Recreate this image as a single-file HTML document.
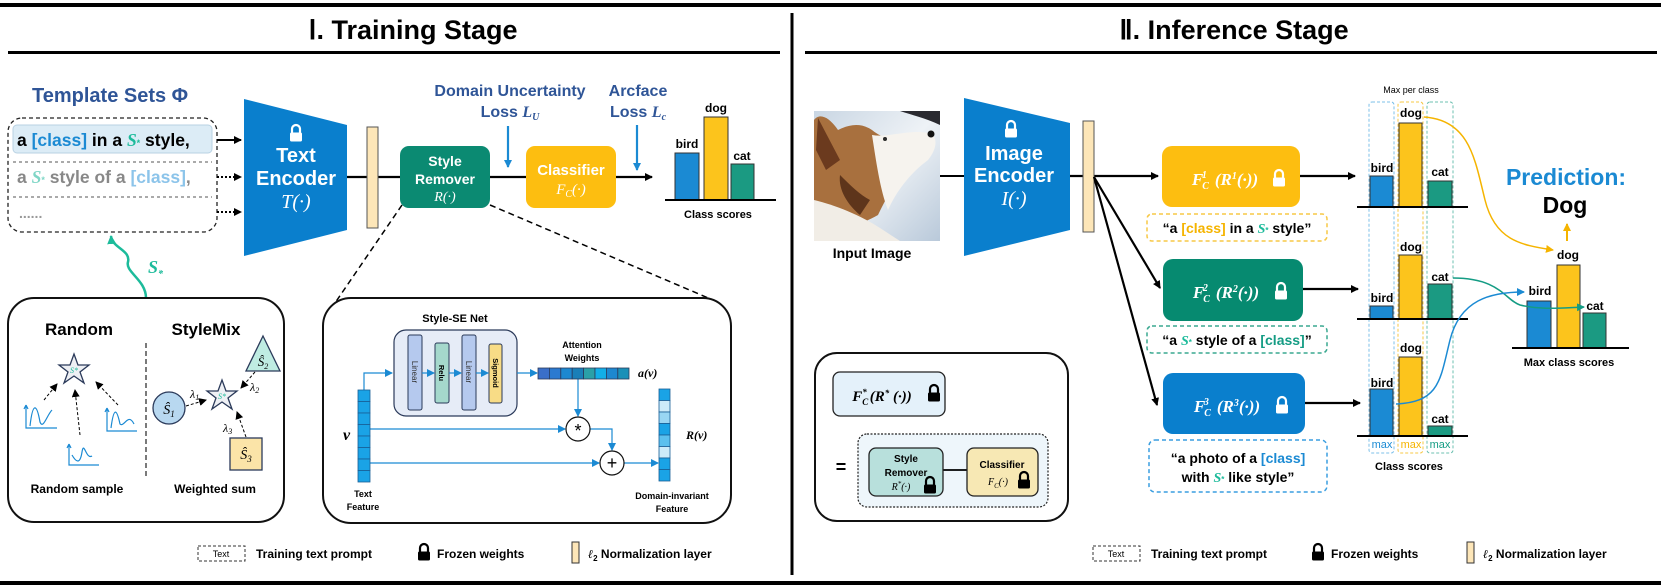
<!DOCTYPE html>
<html><head><meta charset="utf-8"><style>
html,body{margin:0;padding:0;background:#fff;}
svg{display:block;font-family:"Liberation Sans",sans-serif;}
.b{font-weight:bold;}
.m{font-family:"Liberation Serif",serif;font-style:italic;}
</style></head><body>
<svg width="1661" height="587" viewBox="0 0 1661 587" xmlns="http://www.w3.org/2000/svg">
<defs>
<marker id="ak" markerWidth="8" markerHeight="8" refX="7" refY="4" orient="auto" markerUnits="userSpaceOnUse"><path d="M0,0 L8,4 L0,8 z" fill="#000"/></marker>
<marker id="ab" markerWidth="8" markerHeight="8" refX="7" refY="4" orient="auto" markerUnits="userSpaceOnUse"><path d="M0,0 L8,4 L0,8 z" fill="#1b8ad3"/></marker>
<marker id="at" markerWidth="9" markerHeight="9" refX="8" refY="4.5" orient="auto" markerUnits="userSpaceOnUse"><path d="M0,0 L9,4.5 L0,9 z" fill="#1dbb9b"/></marker>
<marker id="ay" markerWidth="8" markerHeight="8" refX="7" refY="4" orient="auto" markerUnits="userSpaceOnUse"><path d="M0,0 L8,4 L0,8 z" fill="#f5b400"/></marker>
<marker id="ag" markerWidth="8" markerHeight="8" refX="7" refY="4" orient="auto" markerUnits="userSpaceOnUse"><path d="M0,0 L8,4 L0,8 z" fill="#149c84"/></marker>
<g id="lock"><path d="M-4,0 v-4 a4,4 0 0 1 8,0 v4" fill="none" stroke="currentColor" stroke-width="2.2"/><rect x="-6" y="-0.5" width="12" height="9" rx="1.5" fill="currentColor"/></g>
<linearGradient id="dogbg" x1="0" y1="0" x2="1" y2="1"><stop offset="0" stop-color="#c9d6e3"/><stop offset="0.5" stop-color="#eef2f6"/><stop offset="1" stop-color="#b9c9da"/></linearGradient>
</defs>

<rect x="0" y="3" width="1661" height="4" fill="#000"/>
<rect x="0" y="581" width="1661" height="4" fill="#000"/>
<rect x="790.5" y="13" width="3" height="562" fill="#000"/>
<rect x="8" y="51" width="772" height="3" fill="#000"/>
<rect x="805" y="51" width="852" height="3" fill="#000"/>
<text x="413" y="39" text-anchor="middle" class="b" font-size="27">Ⅰ. Training Stage</text>
<text x="1234" y="39" text-anchor="middle" class="b" font-size="27">Ⅱ. Inference Stage</text>

<text x="32" y="102" class="b" font-size="20" fill="#2f5597">Template Sets Φ</text>
<rect x="8" y="118" width="209" height="114" rx="14" fill="none" stroke="#222" stroke-width="1.3" stroke-dasharray="4,3"/>
<rect x="13" y="125" width="199" height="28" rx="4" fill="#dcecf6" stroke="#b9d2e3"/>
<text x="17" y="146" class="b" font-size="17.5">a <tspan fill="#1b8ad3">[class]</tspan> in a <tspan class="m" fill="#1dbb9b">S</tspan><tspan font-size="9" fill="#1dbb9b">*</tspan> style,</text>
<line x1="13" y1="162" x2="212" y2="162" stroke="#555" stroke-dasharray="3,3"/>
<text x="17" y="183" class="b" font-size="17.5" fill="#888">a <tspan class="m" fill="#7fd6c6">S</tspan><tspan font-size="9" fill="#7fd6c6">*</tspan> style of a <tspan fill="#8cc4ea">[class]</tspan>,</text>
<line x1="13" y1="197" x2="212" y2="197" stroke="#555" stroke-dasharray="3,3"/>
<text x="19" y="218" class="b" font-size="14" fill="#999">......</text>
<line x1="217" y1="140" x2="241" y2="140" stroke="#000" stroke-width="2" marker-end="url(#ak)"/>
<line x1="217" y1="177" x2="241" y2="177" stroke="#000" stroke-width="2" stroke-dasharray="2,2" marker-end="url(#ak)"/>
<line x1="217" y1="212" x2="241" y2="212" stroke="#000" stroke-width="2" stroke-dasharray="2,2" marker-end="url(#ak)"/>

<polygon points="244,99 347,125 347,230 244,256" fill="#0a7fcd"/>
<use href="#lock" x="296" y="133" color="#fff"/>
<text x="296" y="162" text-anchor="middle" class="b" font-size="20" fill="#fff">Text</text>
<text x="296" y="185" text-anchor="middle" class="b" font-size="20" fill="#fff">Encoder</text>
<text x="296" y="208" text-anchor="middle" class="m" font-size="20" fill="#fff">T(·)</text>

<line x1="347" y1="177" x2="652" y2="177" stroke="#000" stroke-width="2.2" marker-end="url(#ak)"/>
<rect x="367" y="127" width="11" height="101" fill="#fde6b8" stroke="#555"/>
<rect x="400" y="146" width="90" height="62" rx="9" fill="#0b8a72"/>
<text x="445" y="166" text-anchor="middle" class="b" font-size="14" fill="#fff">Style</text>
<text x="445" y="184" text-anchor="middle" class="b" font-size="14" fill="#fff">Remover</text>
<text x="445" y="201" text-anchor="middle" class="m" font-size="14" fill="#fff">R(·)</text>
<rect x="526" y="146" width="90" height="62" rx="9" fill="#fdbe10"/>
<text x="571" y="175" text-anchor="middle" class="b" font-size="15" fill="#fff">Classifier</text>
<text x="571" y="194" text-anchor="middle" class="m" font-size="15" fill="#fff">F<tspan font-size="10" dy="3">C</tspan><tspan dy="-3">(·)</tspan></text>
<line x1="508" y1="126" x2="508" y2="167" stroke="#1b8ad3" stroke-width="2.2" marker-end="url(#ab)"/>
<line x1="637" y1="125" x2="637" y2="170" stroke="#1b8ad3" stroke-width="2.2" marker-end="url(#ab)"/>
<text x="510" y="96" text-anchor="middle" class="b" font-size="16" fill="#2f5597">Domain Uncertainty</text>
<text x="510" y="117" text-anchor="middle" class="b" font-size="16" fill="#2f5597">Loss <tspan class="m">L<tspan font-size="10" dy="3">U</tspan></tspan></text>
<text x="638" y="96" text-anchor="middle" class="b" font-size="16" fill="#2f5597">Arcface</text>
<text x="638" y="117" text-anchor="middle" class="b" font-size="16" fill="#2f5597">Loss <tspan class="m">L<tspan font-size="10" dy="3">c</tspan></tspan></text>

<rect x="675" y="153" width="24" height="47" fill="#1b8ad3" stroke="#333"/>
<rect x="704" y="117" width="24" height="83" fill="#fcc41c" stroke="#333"/>
<rect x="731" y="164" width="23" height="36" fill="#1b9a82" stroke="#333"/>
<line x1="665" y1="200" x2="776" y2="200" stroke="#000" stroke-width="2"/>
<text x="687" y="148" text-anchor="middle" class="b" font-size="12">bird</text>
<text x="716" y="112" text-anchor="middle" class="b" font-size="12">dog</text>
<text x="742" y="160" text-anchor="middle" class="b" font-size="12">cat</text>
<text x="718" y="218" text-anchor="middle" class="b" font-size="11">Class scores</text>

<path d="M146,298 C146,280 125,272 128,262 C131,250 112,248 111,236" fill="none" stroke="#1dbb9b" stroke-width="2.5" marker-end="url(#at)"/>
<text x="148" y="273" class="m b" font-size="18" fill="#1dbb9b">S<tspan font-size="10" dy="4">*</tspan></text>

<line x1="402" y1="205" x2="335" y2="303" stroke="#000" stroke-width="1.5" stroke-dasharray="6,4"/>
<line x1="490" y1="205" x2="720" y2="303" stroke="#000" stroke-width="1.5" stroke-dasharray="6,4"/>

<rect x="8" y="298" width="276" height="224" rx="26" fill="#fff" stroke="#111" stroke-width="2"/>
<text x="79" y="335" text-anchor="middle" class="b" font-size="17">Random</text>
<text x="206" y="335" text-anchor="middle" class="b" font-size="17">StyleMix</text>
<line x1="146" y1="343" x2="146" y2="478" stroke="#222" stroke-width="1.2" stroke-dasharray="5,3"/>
<polygon points="74,354 78,365 89,365 80,372 84,383 74,376 64,383 68,372 59,365 70,365" fill="#eef0f4" stroke="#2b3a5a" stroke-width="1.3"/>
<text x="74" y="373" text-anchor="middle" class="m" font-size="8" fill="#1dbb9b">S*</text>
<line x1="44" y1="400" x2="57" y2="384" stroke="#000" stroke-dasharray="3,2" marker-end="url(#ak)"/>
<line x1="80" y1="435" x2="75" y2="390" stroke="#000" stroke-dasharray="3,2" marker-end="url(#ak)"/>
<line x1="118" y1="405" x2="96" y2="382" stroke="#000" stroke-dasharray="3,2" marker-end="url(#ak)"/>
<g stroke="#1b8ad3" fill="none" stroke-width="1.2">
<path d="M26,405 V428 H57 M26,405 l-2,4 M26,405 l2,4"/><path d="M30,426 C33,400 37,405 40,422 C43,430 47,415 52,410"/>
<path d="M107,408 V431 H137 M107,408 l-2,4 M107,408 l2,4"/><path d="M111,428 C114,405 117,410 120,424 C124,428 128,412 134,424"/>
<path d="M69,444 V465 H99 M69,444 l-2,4 M69,444 l2,4"/><path d="M72,455 C76,462 80,465 82,452 C84,440 86,460 92,456"/>
</g>
<text x="77" y="493" text-anchor="middle" class="b" font-size="12">Random sample</text>
<text x="215" y="493" text-anchor="middle" class="b" font-size="12">Weighted sum</text>
<circle cx="169" cy="408" r="16" fill="#b8d8f0" stroke="#2b3a5a" stroke-width="1.3"/>
<text x="169" y="414" text-anchor="middle" class="m" font-size="14">Ŝ<tspan font-size="9" dy="3">1</tspan></text>
<polygon points="263,336 280,371 246,371" fill="#bfece2" stroke="#2b3a5a" stroke-width="1.3"/>
<text x="263" y="366" text-anchor="middle" class="m" font-size="13">Ŝ<tspan font-size="8" dy="3">2</tspan></text>
<rect x="230" y="438" width="32" height="32" fill="#fbe4a8" stroke="#2b3a5a" stroke-width="1.3"/>
<text x="246" y="459" text-anchor="middle" class="m" font-size="14">Ŝ<tspan font-size="9" dy="3">3</tspan></text>
<polygon points="222,380 226,391 237,391 228,398 232,409 222,402 212,409 216,398 207,391 218,391" fill="#eef0f4" stroke="#2b3a5a" stroke-width="1.3"/>
<text x="222" y="399" text-anchor="middle" class="m" font-size="8" fill="#1dbb9b">S*</text>
<line x1="186" y1="406" x2="206" y2="400" stroke="#000" stroke-dasharray="3,2" marker-end="url(#ak)"/>
<line x1="255" y1="372" x2="241" y2="388" stroke="#000" stroke-dasharray="3,2" marker-end="url(#ak)"/>
<line x1="246" y1="437" x2="237" y2="412" stroke="#000" stroke-dasharray="3,2" marker-end="url(#ak)"/>
<text x="190" y="398" class="m" font-size="12">λ<tspan font-size="8" dy="2">1</tspan></text>
<text x="250" y="391" class="m" font-size="12">λ<tspan font-size="8" dy="2">2</tspan></text>
<text x="223" y="432" class="m" font-size="12">λ<tspan font-size="8" dy="2">3</tspan></text>

<rect x="323" y="298" width="408" height="225" rx="28" fill="#fff" stroke="#111" stroke-width="2"/>
<text x="455" y="322" text-anchor="middle" class="b" font-size="11">Style-SE Net</text>
<rect x="394" y="330" width="123" height="86" rx="12" fill="#e6ecf7" stroke="#2b3a5a" stroke-width="1.2"/>
<rect x="408" y="335" width="14" height="75" rx="2" fill="#b5c9ee" stroke="#2b3a5a"/>
<rect x="435" y="343" width="14" height="60" rx="2" fill="#a5d8cc" stroke="#2b3a5a"/>
<rect x="462" y="335" width="14" height="75" rx="2" fill="#b5c9ee" stroke="#2b3a5a"/>
<rect x="489" y="344" width="13" height="59" rx="2" fill="#f8dc86" stroke="#2b3a5a"/>
<text transform="translate(412,372) rotate(90)" text-anchor="middle" font-size="8" fill="#333">Linear</text>
<text transform="translate(439,373) rotate(90)" text-anchor="middle" class="b" font-size="7.5">Relu</text>
<text transform="translate(466,372) rotate(90)" text-anchor="middle" font-size="8" fill="#333">Linear</text>
<text transform="translate(493,373) rotate(90)" text-anchor="middle" class="b" font-size="7.5">Sigmoid</text>
<g stroke="#1b8ad3" stroke-width="1.2" fill="none">
<line x1="422" y1="373" x2="434" y2="373" marker-end="url(#ab)"/>
<line x1="449" y1="373" x2="461" y2="373" marker-end="url(#ab)"/>
<line x1="476" y1="373" x2="488" y2="373" marker-end="url(#ab)"/>
<line x1="517" y1="373" x2="537" y2="373" marker-end="url(#ab)"/>
<polyline points="364,390 364,373 392,373" marker-end="url(#ab)"/>
<line x1="578" y1="379" x2="578" y2="416" marker-end="url(#ab)"/>
<line x1="370" y1="429" x2="565" y2="429" marker-end="url(#ab)"/>
<polyline points="590,429 612,429 612,450" marker-end="url(#ab)"/>
<line x1="370" y1="463" x2="599" y2="463" marker-end="url(#ab)"/>
<line x1="624" y1="463" x2="658" y2="463" marker-end="url(#ab)"/>
</g>
<g stroke="#2b3a5a" stroke-width="0.8">
<rect x="538" y="368" width="11.4" height="11" fill="#3a6fc9"/><rect x="549.4" y="368" width="11.4" height="11" fill="#2b7ad0"/>
<rect x="560.8" y="368" width="11.4" height="11" fill="#1d88d0"/><rect x="572.2" y="368" width="11.4" height="11" fill="#1a7fb8"/>
<rect x="583.6" y="368" width="11.4" height="11" fill="#2aa0a8"/><rect x="595" y="368" width="11.4" height="11" fill="#12aee8"/>
<rect x="606.4" y="368" width="11.4" height="11" fill="#1d88d0"/><rect x="617.8" y="368" width="11.2" height="11" fill="#1a90b8"/>
</g>
<text x="582" y="348" text-anchor="middle" class="b" font-size="9">Attention</text>
<text x="582" y="361" text-anchor="middle" class="b" font-size="9">Weights</text>
<text x="638" y="377" class="m b" font-size="12">a(v)</text>
<g stroke="#1a5f96" stroke-width="0.8">
<rect x="358" y="390" width="12" height="11.5" fill="#1aa3e6"/><rect x="358" y="401.5" width="12" height="11.5" fill="#1aa3e6"/>
<rect x="358" y="413" width="12" height="11.5" fill="#1aa3e6"/><rect x="358" y="424.5" width="12" height="11.5" fill="#1aa3e6"/>
<rect x="358" y="436" width="12" height="11.5" fill="#1aa3e6"/><rect x="358" y="447.5" width="12" height="11.5" fill="#1aa3e6"/>
<rect x="358" y="459" width="12" height="11.5" fill="#1aa3e6"/><rect x="358" y="470.5" width="12" height="11.5" fill="#1aa3e6"/>
<rect x="659" y="389" width="11" height="11.5" fill="#1aa3e6"/><rect x="659" y="400.5" width="11" height="11.5" fill="#cdebf9"/>
<rect x="659" y="412" width="11" height="11.5" fill="#99d6f3"/><rect x="659" y="423.5" width="11" height="11.5" fill="#1aa3e6"/>
<rect x="659" y="435" width="11" height="11.5" fill="#5cc0ee"/><rect x="659" y="446.5" width="11" height="11.5" fill="#cdebf9"/>
<rect x="659" y="458" width="11" height="11.5" fill="#1aa3e6"/><rect x="659" y="469.5" width="11" height="11.5" fill="#1aa3e6"/>
</g>
<text x="343" y="440" class="m b" font-size="16">v</text>
<text x="686" y="439" class="m b" font-size="12">R(v)</text>
<circle cx="578" cy="429" r="12" fill="#fff" stroke="#111" stroke-width="1.2"/>
<text x="578" y="437" text-anchor="middle" font-size="18">*</text>
<circle cx="612" cy="463" r="12" fill="#fff" stroke="#111" stroke-width="1.2"/>
<text x="612" y="469" text-anchor="middle" font-size="18">+</text>
<text x="363" y="497" text-anchor="middle" class="b" font-size="9">Text</text>
<text x="363" y="510" text-anchor="middle" class="b" font-size="9">Feature</text>
<text x="672" y="499" text-anchor="middle" class="b" font-size="9">Domain-invariant</text>
<text x="672" y="512" text-anchor="middle" class="b" font-size="9">Feature</text>

<rect x="198" y="546" width="47" height="15" fill="none" stroke="#333" stroke-dasharray="3,2"/>
<text x="221" y="557" text-anchor="middle" font-size="9">Text</text>
<text x="256" y="558" class="b" font-size="12">Training text prompt</text>
<use href="#lock" x="424" y="552" color="#000"/>
<text x="437" y="558" class="b" font-size="12">Frozen weights</text>
<rect x="572" y="542" width="7" height="21" fill="#fde6b8" stroke="#333"/>
<text x="588" y="558" class="b" font-size="12"><tspan class="m">ℓ</tspan><tspan font-size="8" dy="3">2</tspan><tspan dy="-3"> Normalization layer</tspan></text>

<!-- dog image -->
<rect x="814" y="111" width="126" height="130" fill="url(#dogbg)"/>
<path d="M900,111 L940,111 L940,125 C925,118 912,115 900,111 Z" fill="#2a2a30"/>
<path d="M814,120 C820,112 830,118 838,130 C848,125 860,122 872,130 C884,140 900,142 916,138 L922,150 C905,165 890,190 878,215 C860,225 840,232 814,236 Z" fill="#a8703e"/>
<path d="M818,118 L840,160 L826,170 L816,150 Z" fill="#6b3a1e"/>
<path d="M872,135 C890,138 912,128 932,134 C938,140 936,150 928,160 C912,172 898,188 888,210 C880,190 876,160 872,135 Z" fill="#f6f3ee"/>
<path d="M814,200 C835,205 860,215 880,228 L900,241 L814,241 Z" fill="#f1ede6"/>
<path d="M840,175 C850,185 860,195 870,200 L860,215 C848,205 838,190 840,175 Z" fill="#5e351b"/>
<circle cx="931" cy="134" r="3.5" fill="#111"/>
<circle cx="885" cy="139" r="2" fill="#2a2a2a"/>
<text x="872" y="258" text-anchor="middle" class="b" font-size="14">Input Image</text>
<line x1="940" y1="176" x2="964" y2="176" stroke="#000" stroke-width="2"/>
<polygon points="964,98 1070,123 1070,230 964,256" fill="#0a7fcd"/>
<use href="#lock" x="1011" y="129" color="#fff"/>
<text x="1014" y="160" text-anchor="middle" class="b" font-size="20" fill="#fff">Image</text>
<text x="1014" y="182" text-anchor="middle" class="b" font-size="20" fill="#fff">Encoder</text>
<text x="1014" y="205" text-anchor="middle" class="m" font-size="20" fill="#fff">I(·)</text>
<line x1="1070" y1="176" x2="1158" y2="176" stroke="#000" stroke-width="2.2" marker-end="url(#ak)"/>
<rect x="1083" y="121" width="11" height="111" fill="#fde6b8" stroke="#555"/>
<line x1="1094" y1="177" x2="1160" y2="288" stroke="#000" stroke-width="2.2" marker-end="url(#ak)"/>
<line x1="1094" y1="177" x2="1157" y2="405" stroke="#000" stroke-width="2.2" marker-end="url(#ak)"/>

<rect x="1162" y="146" width="138" height="61" rx="10" fill="#fdbe10"/>
<text x="1225" y="185" text-anchor="middle" class="m b" font-size="17" fill="#fff">F<tspan font-size="10" dy="4" dx="-1">C</tspan><tspan font-size="10" dy="-11" dx="-7">1</tspan><tspan dy="7" dx="8">(R</tspan><tspan font-size="10" dy="-6">1</tspan><tspan dy="6">(·))</tspan></text>
<use href="#lock" x="1279" y="178" color="#fff"/>
<rect x="1163" y="259" width="140" height="62" rx="10" fill="#068a70"/>
<text x="1226" y="298" text-anchor="middle" class="m b" font-size="17" fill="#fff">F<tspan font-size="10" dy="4" dx="-1">C</tspan><tspan font-size="10" dy="-11" dx="-7">2</tspan><tspan dy="7" dx="8">(R</tspan><tspan font-size="10" dy="-6">2</tspan><tspan dy="6">(·))</tspan></text>
<use href="#lock" x="1281" y="291" color="#fff"/>
<rect x="1163" y="373" width="142" height="61" rx="10" fill="#0a7fcd"/>
<text x="1227" y="412" text-anchor="middle" class="m b" font-size="17" fill="#fff">F<tspan font-size="10" dy="4" dx="-1">C</tspan><tspan font-size="10" dy="-11" dx="-7">3</tspan><tspan dy="7" dx="8">(R</tspan><tspan font-size="10" dy="-6">3</tspan><tspan dy="6">(·))</tspan></text>
<use href="#lock" x="1282" y="405" color="#fff"/>

<rect x="1147" y="214" width="180" height="27" rx="5" fill="none" stroke="#f7c846" stroke-width="1.5" stroke-dasharray="4,3"/>
<text x="1237" y="233" text-anchor="middle" class="b" font-size="14">“a <tspan fill="#f5b400">[class]</tspan> in a <tspan class="m" fill="#1dbb9b">S</tspan><tspan font-size="8" fill="#1dbb9b">*</tspan> style”</text>
<rect x="1147" y="326" width="180" height="27" rx="5" fill="none" stroke="#3aa890" stroke-width="1.5" stroke-dasharray="4,3"/>
<text x="1237" y="345" text-anchor="middle" class="b" font-size="14">“a <tspan class="m" fill="#1dbb9b">S</tspan><tspan font-size="8" fill="#1dbb9b">*</tspan> style of a <tspan fill="#149c84">[class]</tspan>”</text>
<rect x="1149" y="440" width="178" height="52" rx="6" fill="none" stroke="#3a9ee0" stroke-width="1.5" stroke-dasharray="4,3"/>
<text x="1238" y="463" text-anchor="middle" class="b" font-size="14">“a photo of a <tspan fill="#1b8ad3">[class]</tspan></text>
<text x="1238" y="482" text-anchor="middle" class="b" font-size="14">with <tspan class="m" fill="#1dbb9b">S</tspan><tspan font-size="8" fill="#1dbb9b">*</tspan> like style”</text>

<line x1="1300" y1="176" x2="1355" y2="176" stroke="#000" stroke-width="2.2" marker-end="url(#ak)"/>
<line x1="1303" y1="289" x2="1358" y2="289" stroke="#000" stroke-width="2.2" marker-end="url(#ak)"/>
<line x1="1305" y1="403" x2="1360" y2="403" stroke="#000" stroke-width="2.2" marker-end="url(#ak)"/>

<text x="1411" y="93" text-anchor="middle" font-size="9">Max per class</text>
<rect x="1369" y="102" width="25" height="351" rx="3" fill="none" stroke="#7cc0ea" stroke-dasharray="3,2"/>
<rect x="1398" y="102" width="25" height="351" rx="3" fill="none" stroke="#f7c846" stroke-dasharray="3,2"/>
<rect x="1427" y="102" width="26" height="351" rx="3" fill="none" stroke="#6cc0b0" stroke-dasharray="3,2"/>
<g stroke="#333">
<rect x="1370" y="176" width="23" height="31" fill="#1b8ad3"/><rect x="1399" y="123" width="23" height="84" fill="#fcc41c"/><rect x="1428" y="181" width="24" height="26" fill="#1b9a82"/>
<rect x="1370" y="306" width="23" height="13" fill="#1b8ad3"/><rect x="1399" y="255" width="23" height="64" fill="#fcc41c"/><rect x="1428" y="284" width="24" height="35" fill="#1b9a82"/>
<rect x="1370" y="389" width="23" height="47" fill="#1b8ad3"/><rect x="1399" y="357" width="23" height="79" fill="#fcc41c"/><rect x="1428" y="426" width="24" height="10" fill="#1b9a82"/>
</g>
<line x1="1357" y1="207" x2="1468" y2="207" stroke="#000" stroke-width="2"/>
<line x1="1357" y1="319" x2="1468" y2="319" stroke="#000" stroke-width="2"/>
<line x1="1357" y1="436" x2="1468" y2="436" stroke="#000" stroke-width="2"/>
<g class="b" font-size="12" text-anchor="middle">
<text x="1382" y="172">bird</text><text x="1411" y="117">dog</text><text x="1440" y="176">cat</text>
<text x="1382" y="302">bird</text><text x="1411" y="251">dog</text><text x="1440" y="281">cat</text>
<text x="1382" y="387">bird</text><text x="1411" y="352">dog</text><text x="1440" y="423">cat</text>
</g>
<text x="1382" y="448" text-anchor="middle" font-size="11" fill="#1b8ad3">max</text>
<text x="1411" y="448" text-anchor="middle" font-size="11" fill="#f5b400">max</text>
<text x="1440" y="448" text-anchor="middle" font-size="11" fill="#149c84">max</text>
<text x="1409" y="470" text-anchor="middle" class="b" font-size="11">Class scores</text>

<text x="1566" y="185" text-anchor="middle" class="b" font-size="23" fill="#1b8ad3">Prediction:</text>
<text x="1565" y="213" text-anchor="middle" class="b" font-size="23">Dog</text>
<line x1="1567" y1="241" x2="1567" y2="224" stroke="#f5b400" stroke-width="2" marker-end="url(#ay)"/>

<rect x="1527" y="301" width="24" height="47" fill="#1b8ad3" stroke="#333"/>
<rect x="1557" y="265" width="23" height="83" fill="#fcc41c" stroke="#333"/>
<rect x="1583" y="313" width="23" height="35" fill="#1b9a82" stroke="#333"/>
<line x1="1512" y1="348" x2="1629" y2="348" stroke="#000" stroke-width="2"/>
<text x="1540" y="295" text-anchor="middle" class="b" font-size="12">bird</text>
<text x="1568" y="259" text-anchor="middle" class="b" font-size="12">dog</text>
<text x="1595" y="310" text-anchor="middle" class="b" font-size="12">cat</text>
<text x="1569" y="366" text-anchor="middle" class="b" font-size="11">Max class scores</text>
<path d="M1424,117 C1470,120 1475,160 1485,200 C1495,240 1520,245 1553,250" fill="none" stroke="#f5b400" stroke-width="1.5" marker-end="url(#ay)"/>
<path d="M1453,278 C1500,278 1505,300 1520,305 C1540,310 1560,308 1584,307" fill="none" stroke="#149c84" stroke-width="1.5" marker-end="url(#ag)"/>
<path d="M1396,404 C1440,402 1440,380 1450,340 C1460,300 1490,292 1524,292" fill="none" stroke="#1b8ad3" stroke-width="1.5" marker-end="url(#ab)"/>

<rect x="815" y="353" width="253" height="168" rx="22" fill="#fff" stroke="#111" stroke-width="2"/>
<rect x="833" y="372" width="112" height="44" rx="7" fill="#e4f1fa" stroke="#222" stroke-width="1.3"/>
<text x="882" y="401" text-anchor="middle" class="m b" font-size="15">F<tspan font-size="9" dy="4">C</tspan><tspan font-size="9" dy="-10" dx="-6">*</tspan><tspan dy="6" dx="3">(R</tspan><tspan font-size="9" dy="-5">*</tspan><tspan dy="5"> (·))</tspan></text>
<use href="#lock" x="934" y="393" color="#000"/>
<text x="841" y="473" text-anchor="middle" class="b" font-size="18">=</text>
<rect x="858" y="434" width="190" height="73" rx="9" fill="#eef6fb" stroke="#222" stroke-width="1.2" stroke-dasharray="2,1.5"/>
<line x1="943" y1="470" x2="967" y2="470" stroke="#000" stroke-width="1.8"/>
<rect x="869" y="448" width="74" height="48" rx="7" fill="#b8e0dc" stroke="#222" stroke-width="1.3"/>
<text x="906" y="462" text-anchor="middle" class="b" font-size="10">Style</text>
<text x="906" y="476" text-anchor="middle" class="b" font-size="10">Remover</text>
<text x="901" y="490" text-anchor="middle" class="m" font-size="10">R<tspan font-size="7" dy="-4">*</tspan><tspan dy="4">(·)</tspan></text>
<use href="#lock" x="930" y="485" color="#000"/>
<rect x="967" y="448" width="71" height="48" rx="7" fill="#f7e8b4" stroke="#222" stroke-width="1.3"/>
<text x="1002" y="468" text-anchor="middle" class="b" font-size="10">Classifier</text>
<text x="998" y="485" text-anchor="middle" class="m" font-size="10">F<tspan font-size="7" dy="3">C</tspan><tspan dy="-3">(·)</tspan></text>
<use href="#lock" x="1024" y="480" color="#000"/>

<rect x="1093" y="546" width="47" height="15" fill="none" stroke="#333" stroke-dasharray="3,2"/>
<text x="1116" y="557" text-anchor="middle" font-size="9">Text</text>
<text x="1151" y="558" class="b" font-size="12">Training text prompt</text>
<use href="#lock" x="1318" y="552" color="#000"/>
<text x="1331" y="558" class="b" font-size="12">Frozen weights</text>
<rect x="1467" y="542" width="7" height="21" fill="#fde6b8" stroke="#333"/>
<text x="1483" y="558" class="b" font-size="12"><tspan class="m">ℓ</tspan><tspan font-size="8" dy="3">2</tspan><tspan dy="-3"> Normalization layer</tspan></text>
</svg>
</body></html>
